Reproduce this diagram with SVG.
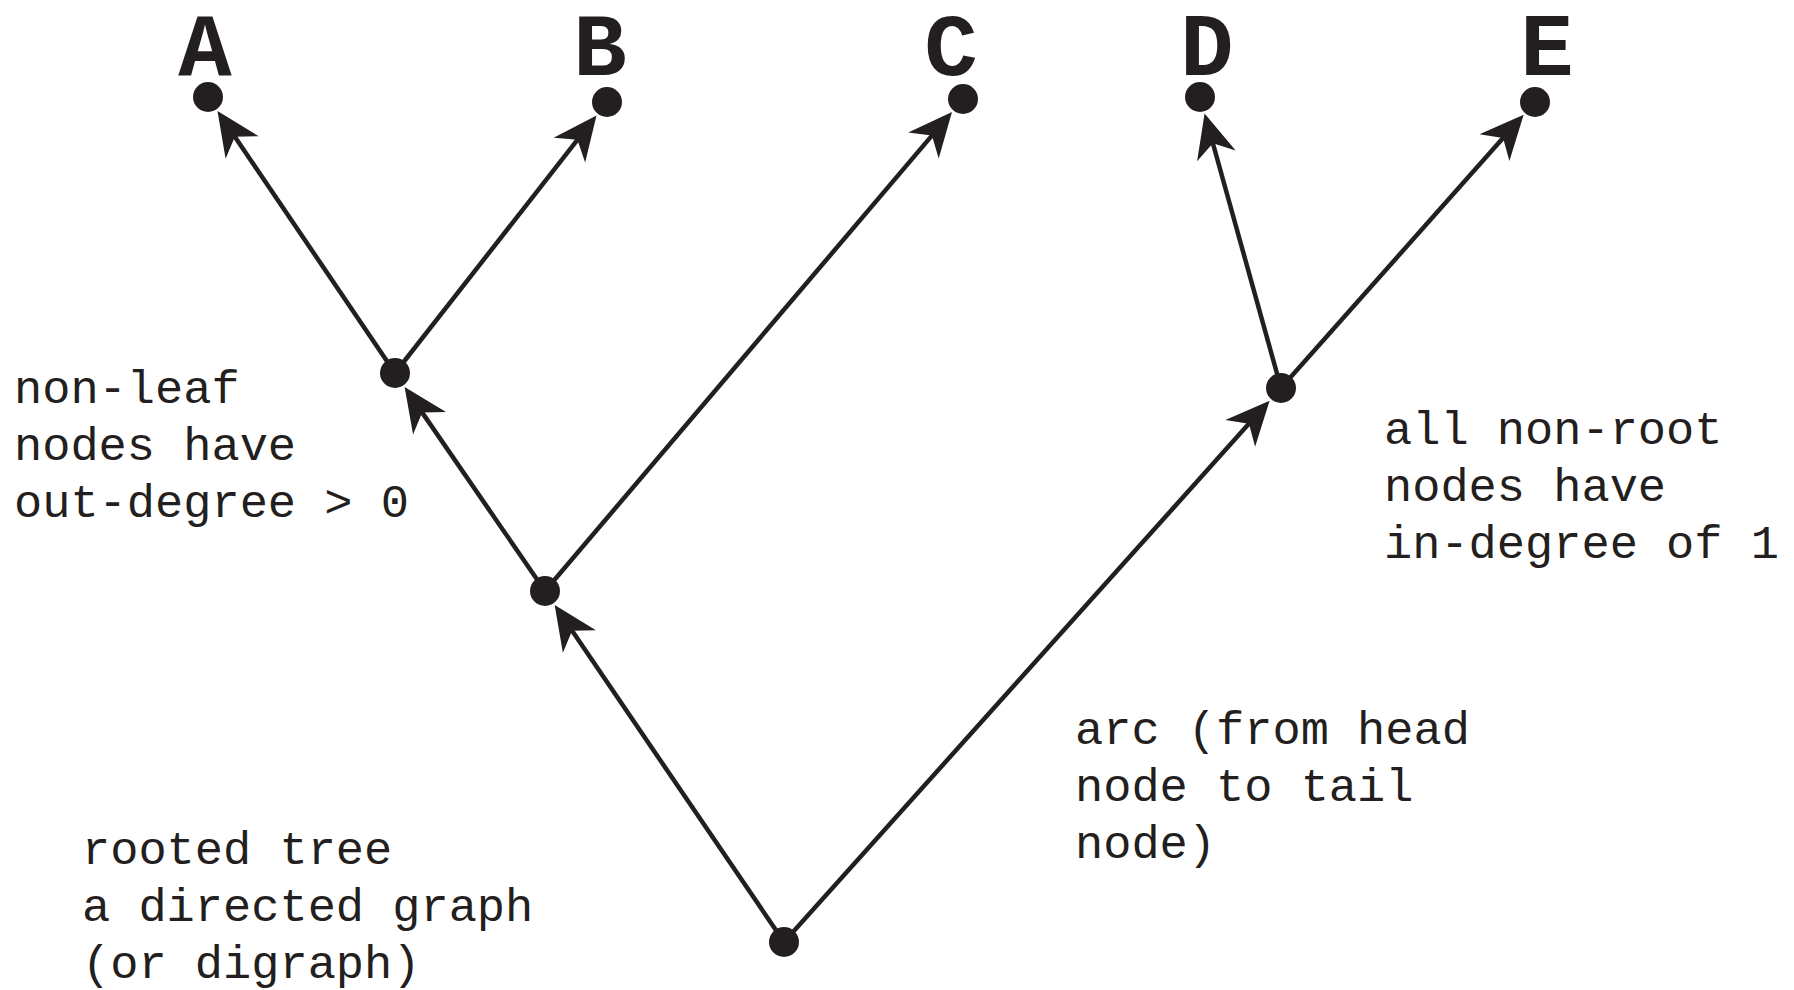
<svg xmlns="http://www.w3.org/2000/svg" width="1794" height="990" viewBox="0 0 1794 990">
  <style>
    .edge { stroke: #231f20; stroke-width: 4.5; fill: none; marker-end: url(#arrow); }
    .dot { fill: #231f20; }
    .letter { font-family: "Liberation Mono", "Courier New", monospace; font-weight: bold; font-size: 89px; fill: #231f20; text-anchor: middle; }
    .note { font-family: "Liberation Mono", "Courier New", monospace; font-size: 47px; fill: #231f20; }
  </style>
  <defs>
    <marker id="arrow" markerUnits="userSpaceOnUse" viewBox="-46 -24 48 48" markerWidth="48" markerHeight="48" refX="-12" refY="0" orient="auto">
      <path d="M0,0 L-44,-20 L-31,0 L-44,20 Z" fill="#231f20"/>
    </marker>
  </defs>
  <rect width="1794" height="990" fill="#ffffff"/>

  <!-- arcs of the tree -->
  <g id="connectors">
    <line class="edge" x1="395" y1="373" x2="224.2" y2="121"/>
    <line class="edge" x1="395" y1="373" x2="589.1" y2="124.9"/>
    <line class="edge" x1="545" y1="591" x2="411.4" y2="396.9"/>
    <line class="edge" x1="545" y1="591" x2="944.2" y2="121.1"/>
    <line class="edge" x1="784" y1="942" x2="561.4" y2="615"/>
    <line class="edge" x1="784" y1="942" x2="1261.6" y2="409.6"/>
    <line class="edge" x1="1281" y1="388" x2="1207.8" y2="125"/>
    <line class="edge" x1="1281" y1="388" x2="1515.7" y2="123.7"/>
  </g>

  <!-- leaves -->
  <g id="node-A">
    <text class="letter" x="205" y="75">A</text>
    <circle class="dot" cx="208" cy="97" r="15"/>
  </g>
  <g id="node-B">
    <text class="letter" x="600" y="75">B</text>
    <circle class="dot" cx="607" cy="102" r="15"/>
  </g>
  <g id="node-C">
    <text class="letter" x="951" y="75">C</text>
    <circle class="dot" cx="963" cy="99" r="15"/>
  </g>
  <g id="node-D">
    <text class="letter" x="1207" y="75">D</text>
    <circle class="dot" cx="1200" cy="97" r="15"/>
  </g>
  <g id="node-E">
    <text class="letter" x="1547" y="75">E</text>
    <circle class="dot" cx="1535" cy="102" r="15"/>
  </g>

  <!-- internal nodes and root -->
  <g id="node-P"><circle class="dot" cx="395" cy="373" r="15"/></g>
  <g id="node-Q"><circle class="dot" cx="545" cy="591" r="15"/></g>
  <g id="node-R"><circle class="dot" cx="1281" cy="388" r="15"/></g>
  <g id="node-root"><circle class="dot" cx="784" cy="942" r="15"/></g>

  <!-- annotations -->
  <g id="note-nonleaf">
    <text class="note" x="14" y="403">non-leaf</text>
    <text class="note" x="14" y="460">nodes have</text>
    <text class="note" x="14" y="517">out-degree &gt; 0</text>
  </g>
  <g id="note-nonroot">
    <text class="note" x="1384" y="444">all non-root</text>
    <text class="note" x="1384" y="501">nodes have</text>
    <text class="note" x="1384" y="558">in-degree of 1</text>
  </g>
  <g id="note-arc">
    <text class="note" x="1075" y="744">arc (from head</text>
    <text class="note" x="1075" y="801">node to tail</text>
    <text class="note" x="1075" y="858">node)</text>
  </g>
  <g id="note-tree">
    <text class="note" x="82" y="864">rooted tree</text>
    <text class="note" x="82" y="921">a directed graph</text>
    <text class="note" x="82" y="978">(or digraph)</text>
  </g>
</svg>
